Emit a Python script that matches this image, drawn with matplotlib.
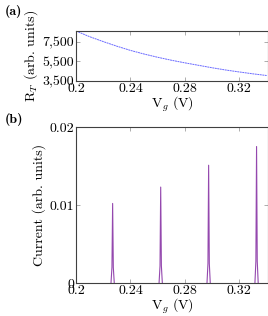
import matplotlib
matplotlib.use("Agg")
import matplotlib.pyplot as plt
from matplotlib.ticker import FuncFormatter

plt.rcParams['font.family'] = 'serif'
plt.rcParams['font.serif'] = ['cmr10', 'DejaVu Serif']
plt.rcParams['mathtext.fontset'] = 'cm'
plt.rcParams['axes.formatter.use_mathtext'] = True
plt.rcParams['font.size'] = 10

# panel (a): resistance vs gate voltage
vg_a = [0.200, 0.210, 0.220, 0.230, 0.240, 0.250, 0.260, 0.270, 0.280,
        0.290, 0.300, 0.310, 0.320, 0.330, 0.340]
rt_a = [8600, 8020, 7520, 7050, 6620, 6250, 5920, 5620, 5350,
        5100, 4850, 4620, 4420, 4230, 4060]

# panel (b): current peaks, one list of points per peak
vg_b = [
    [0.2257, 0.2264, 0.2269, 0.2274, 0.2281],
    [0.2610, 0.2617, 0.2622, 0.2627, 0.2634],
    [0.2962, 0.2969, 0.2974, 0.2979, 0.2986],
    [0.3314, 0.3321, 0.3326, 0.3331, 0.3338],
]
cur_b = [
    [0.0, 0.0020, 0.0102, 0.0020, 0.0],
    [0.0, 0.0022, 0.0123, 0.0022, 0.0],
    [0.0, 0.0025, 0.0151, 0.0025, 0.0],
    [0.0, 0.0028, 0.0175, 0.0028, 0.0],
]

fig = plt.figure(figsize=(2.68, 3.16), dpi=100)
ax1 = fig.add_axes([76/268, 1 - 81/316, 192/268, 50/316])
ax2 = fig.add_axes([76/268, 1 - 283/316, 192/268, 156/316])

ax1.plot(vg_a, rt_a, color='#6a6aff', lw=0.7, linestyle=(0, (2, 0.6)))
ax1.set_xlim(0.2, 0.341)
ax1.set_ylim(3500, 8600)
ax1.set_xticks([0.2, 0.24, 0.28, 0.32])
ax1.set_xticklabels(['0.2', '0.24', '0.28', '0.32'])
ax1.set_yticks([3500, 5500, 7500])
ax1.yaxis.set_major_formatter(FuncFormatter(lambda v, p: f"{int(v):,}"))
ax1.set_xlabel(r"V$_g$ (V)", labelpad=0)
ax1.set_ylabel(r"R$_T$ (arb. units)", labelpad=2)

for xs, ys in zip(vg_b, cur_b):
    ax2.plot(xs, ys, color='#9448ae', lw=0.8)
ax2.set_xlim(0.2, 0.341)
ax2.set_ylim(0, 0.02)
ax2.set_xticks([0.2, 0.24, 0.28, 0.32])
ax2.set_xticklabels(['0.2', '0.24', '0.28', '0.32'])
ax2.set_yticks([0, 0.01, 0.02])
ax2.set_yticklabels(['0', '0.01', '0.02'])
ax2.set_xlabel(r"V$_g$ (V)", labelpad=0)
ax2.set_ylabel("Current (arb. units)", labelpad=2)

for ax in (ax1, ax2):
    for s in ax.spines.values():
        s.set_color('#404040')
        s.set_linewidth(0.8)
        s.set_zorder(3)
    ax.tick_params(direction='in', length=3, width=0.6, color='#a0a0a0',
                   top=True, right=True, pad=1.5)

fig.text(5/268, 1 - 12/316, "(a)", family='cmb10', fontsize=10, va='center')
fig.text(5/268, 1 - 120/316, "(b)", family='cmb10', fontsize=10, va='center')

fig.savefig("out.png", dpi=100)
